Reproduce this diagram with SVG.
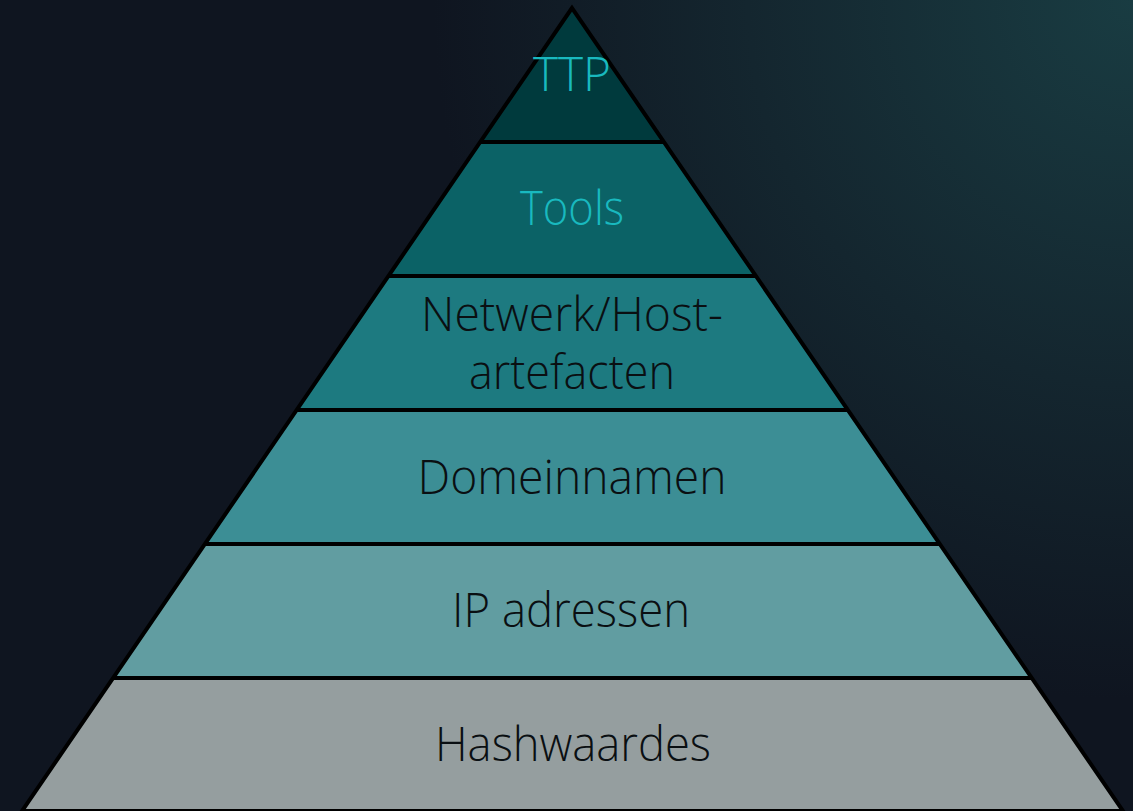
<svg xmlns="http://www.w3.org/2000/svg" width="1133" height="811" viewBox="0 0 1133 811">
  <defs>
    <radialGradient id="bg" cx="1133" cy="0" r="700" gradientUnits="userSpaceOnUse">
      <stop offset="0" stop-color="#193c42"/>
      <stop offset="0.55" stop-color="#14262f"/>
      <stop offset="1" stop-color="#0f1520"/>
    </radialGradient>
    <clipPath id="pyr">
      <polygon points="572,8 22,811 1123,811"/>
    </clipPath>
  </defs>
  <style>
    .lbl { font-family: "Open Sans", "Noto Sans", "DejaVu Sans", sans-serif; font-weight: 300; font-size: 47px; text-anchor: middle; }
    .dark { fill: #0a0f12; }
    .cyan { fill: #19b9bf; }
    .edge { fill: none; stroke: #000; stroke-width: 4; stroke-linejoin: miter; }
    .div { stroke: #000; stroke-width: 4; }
  </style>

  <rect width="1133" height="811" fill="#0f1520"/>
  <rect width="1133" height="811" fill="url(#bg)"/>

  <!-- bands, clipped to the triangle -->
  <g clip-path="url(#pyr)">
    <g id="ttp"><rect x="0" y="0" width="1133" height="142" fill="#003a3d"/></g>
    <g id="tools"><rect x="0" y="142" width="1133" height="134" fill="#0b6266"/></g>
    <g id="netwerk"><rect x="0" y="276" width="1133" height="134" fill="#1d7a80"/></g>
    <g id="domein"><rect x="0" y="410" width="1133" height="134" fill="#3c8e95"/></g>
    <g id="ip"><rect x="0" y="544" width="1133" height="134" fill="#619da1"/></g>
    <g id="hash"><rect x="0" y="678" width="1133" height="140" fill="#959e9f"/></g>
  </g>

  <!-- band dividers and outline -->
  <g id="connectors">
    <g clip-path="url(#pyr)">
      <line class="div" x1="0" y1="142" x2="1133" y2="142"/>
      <line class="div" x1="0" y1="276" x2="1133" y2="276"/>
      <line class="div" x1="0" y1="410" x2="1133" y2="410"/>
      <line class="div" x1="0" y1="544" x2="1133" y2="544"/>
      <line class="div" x1="0" y1="678" x2="1133" y2="678"/>
    </g>
    <polygon class="edge" points="572,8 22,811 1123,811"/>
  </g>

  <!-- labels -->
  <g id="labels">
    <text class="lbl cyan" x="572" y="91" textLength="78" lengthAdjust="spacingAndGlyphs">TTP</text>
    <text class="lbl cyan" x="572" y="225" textLength="104" lengthAdjust="spacingAndGlyphs">Tools</text>
    <text class="lbl dark" x="572" y="331" textLength="302" lengthAdjust="spacingAndGlyphs">Netwerk/Host-</text>
    <text class="lbl dark" x="572" y="389" textLength="206" lengthAdjust="spacingAndGlyphs">artefacten</text>
    <text class="lbl dark" x="572" y="494" textLength="309" lengthAdjust="spacingAndGlyphs">Domeinnamen</text>
    <text class="lbl dark" x="571" y="627" textLength="238" lengthAdjust="spacingAndGlyphs">IP adressen</text>
    <text class="lbl dark" x="573" y="761" textLength="276" lengthAdjust="spacingAndGlyphs">Hashwaardes</text>
  </g>
</svg>
